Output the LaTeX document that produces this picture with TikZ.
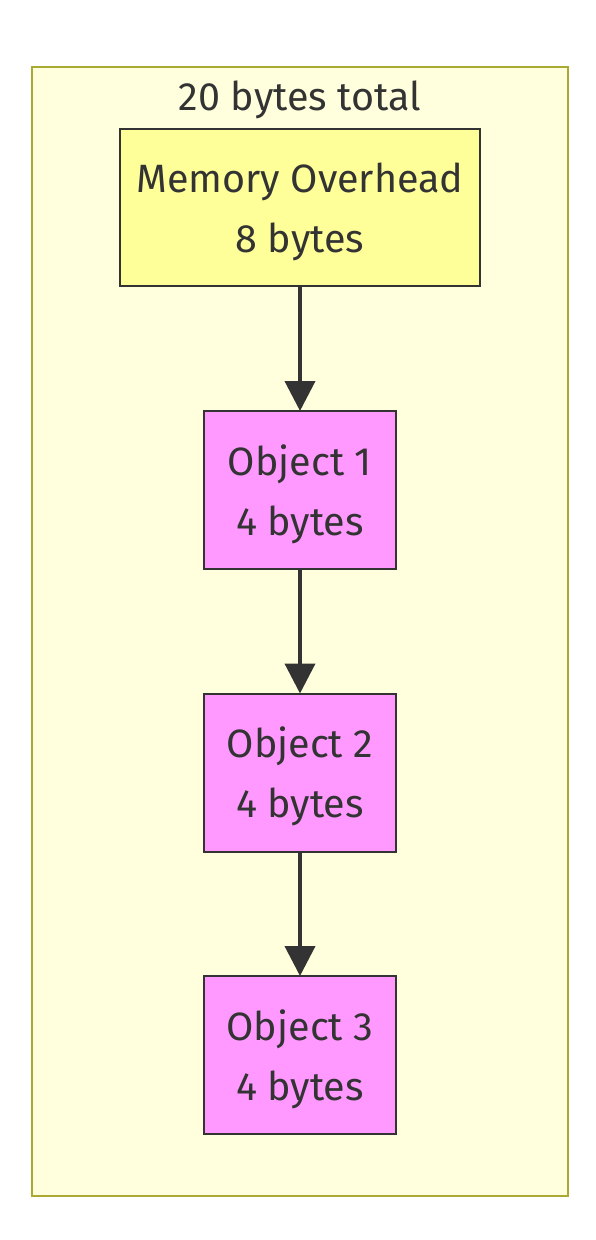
\documentclass[tikz,border=0pt]{standalone}
\usepackage{fontspec}
\setmainfont{Fira Sans}
\usetikzlibrary{arrows.meta}
\definecolor{clfill}{HTML}{FFFFDE}
\definecolor{clline}{HTML}{AAAA33}
\definecolor{ink}{HTML}{333333}
\definecolor{yel}{HTML}{FFFF99}
\definecolor{pink}{HTML}{FF99FF}
\tikzset{
  lbl/.style={text=ink, align=center, font=\fontsize{39.5}{60}\selectfont, inner sep=0pt, yshift=-4pt},
  box/.style={draw=ink, line width=2pt, inner sep=0pt},
  objbox/.style={box, fill=pink, minimum width=192pt, minimum height=158pt},
  membox/.style={box, fill=yel, minimum width=360pt, minimum height=157pt},
  conn/.style={draw=ink, line width=4pt, -{Triangle[length=30pt,width=30pt]}, shorten >=-1pt}
}
\begin{document}
\begin{tikzpicture}[x=1pt,y=-1pt]
\useasboundingbox (0,0) rectangle (596,1240);
\fill[white] (0,0) rectangle (596,1240);
\node[draw=clline, fill=clfill, line width=2pt, minimum width=536pt, minimum height=1129pt, inner sep=0pt] (cluster) at (300,631.5) {};
\node[text=ink, font=\fontsize{39.5}{40}\selectfont, inner sep=0pt] (title) at (300,99.5) {20 bytes total};
\node[membox, label={[lbl]center:{Memory Overhead\\8 bytes}}] (mem) at (300,207.5) {};
\node[objbox, label={[lbl]center:{Object 1\\4 bytes}}] (o1) at (300,490) {};
\node[objbox, label={[lbl]center:{Object 2\\4 bytes}}] (o2) at (300,772.5) {};
\node[objbox, label={[lbl]center:{Object 3\\4 bytes}}] (o3) at (300,1055) {};
\draw[conn] (mem) -- (o1);
\draw[conn] (o1) -- (o2);
\draw[conn] (o2) -- (o3);
\end{tikzpicture}
\end{document}
